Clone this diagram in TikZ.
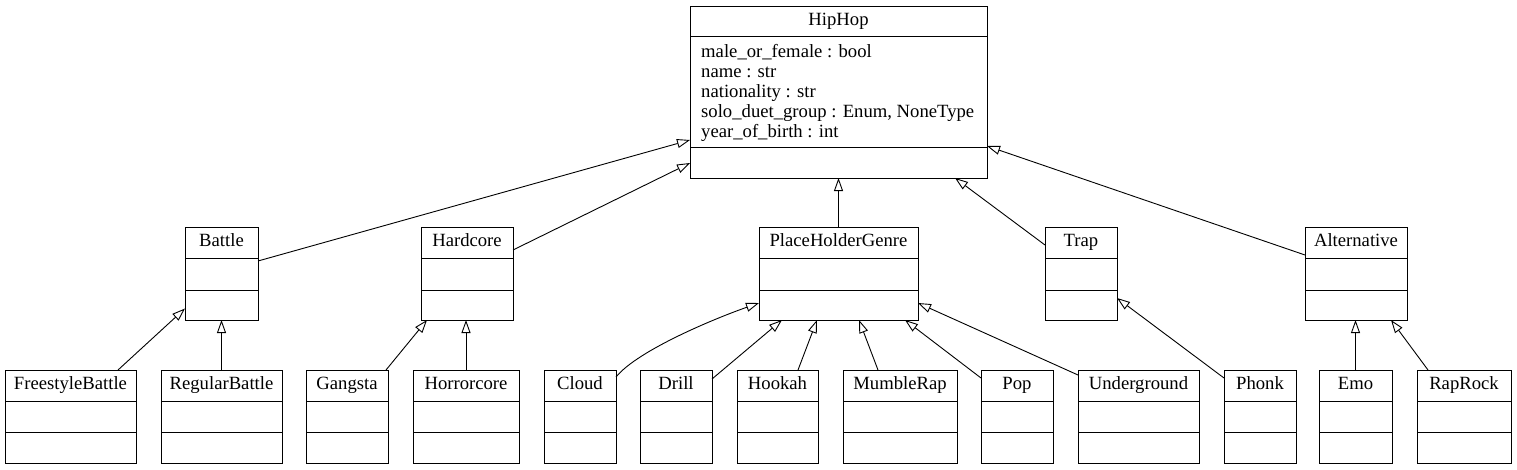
\documentclass[tikz,border=0pt]{standalone}
\usepackage{fontspec}
\setmainfont{Liberation Serif}
\usetikzlibrary{arrows.meta}
\newcommand\umlcls[8]{% name, x1, x2, top, bottom, div1, div2, title
  \pgfmathsetmacro\ucx{(#2+#3)/2}\pgfmathsetmacro\ucy{(#4+#5)/2}%
  \pgfmathsetmacro\ucw{#3-#2}\pgfmathsetmacro\uch{#5-#4}%
  \node[cls,minimum width=\ucw pt,minimum height=\uch pt] (#1) at (\ucx,\ucy) {};
  \draw[divline] (#2,#6) -- (#3,#6) (#2,#7) -- (#3,#7);
  \node[ttl] (#1-t) at (\ucx,#4+19.5) {#8};
}
\begin{document}
\begin{tikzpicture}[x=1pt,y=-1pt,
  cls/.style={draw,rectangle,line width=1pt,inner sep=0pt,outer sep=0pt},
  divline/.style={line width=1pt},
  ttl/.style={anchor=base,inner sep=0pt,font=\fontsize{18.67}{20}\selectfont},
  attr/.style={anchor=base west,inner sep=0pt,font=\fontsize{18.67}{20}\selectfont},
  inh/.style={draw,line width=0.9pt,-{Triangle[open,length=13pt,width=9pt,line width=0.9pt]}}]
\useasboundingbox (0,0) rectangle (1517,469);
% top class
\umlcls{HipHop}{690}{987}{6}{178}{36}{147}{HipHop}
\node[attr] (HipHop-a1) at (701,57) {male\_or\_female : bool};
\node[attr] (HipHop-a2) at (701,77) {name : str};
\node[attr] (HipHop-a3) at (701,97) {nationality : str};
\node[attr] (HipHop-a4) at (701,117) {solo\_duet\_group : Enum, NoneType};
\node[attr] (HipHop-a5) at (701,137) {year\_of\_birth : int};
% middle row
\umlcls{Battle}{185}{258}{227}{320}{258}{290}{Battle}
\umlcls{Hardcore}{421}{513}{227}{320}{258}{290}{Hardcore}
\umlcls{PHG}{759}{918}{227}{320}{258}{290}{PlaceHolderGenre}
\umlcls{Trap}{1045}{1117}{227}{320}{258}{290}{Trap}
\umlcls{Alternative}{1305}{1407}{227}{320}{258}{290}{Alternative}
% bottom row
\umlcls{FreestyleBattle}{5}{136}{370}{463}{401}{432}{FreestyleBattle}
\umlcls{RegularBattle}{161}{282}{370}{463}{401}{432}{RegularBattle}
\umlcls{Gangsta}{306}{388}{370}{463}{401}{432}{Gangsta}
\umlcls{Horrorcore}{413}{519}{370}{463}{401}{432}{Horrorcore}
\umlcls{Cloud}{544}{616}{370}{463}{401}{432}{Cloud}
\umlcls{Drill}{640}{712}{370}{463}{401}{432}{Drill}
\umlcls{Hookah}{737}{818}{370}{463}{401}{432}{Hookah}
\umlcls{MumbleRap}{843}{957}{370}{463}{401}{432}{MumbleRap}
\umlcls{Pop}{981}{1053}{370}{463}{401}{432}{Pop}
\umlcls{Underground}{1078}{1199}{370}{463}{401}{432}{Underground}
\umlcls{Phonk}{1224}{1296}{370}{463}{401}{432}{Phonk}
\umlcls{Emo}{1319}{1392}{370}{463}{401}{432}{Emo}
\umlcls{RapRock}{1417}{1511}{370}{463}{401}{432}{RapRock}
% inheritance connectors
\draw[inh] ([shift={(0,-12.5)}]Battle.east) -- ([shift={(0,48)}]HipHop.west);
\draw[inh] ([shift={(0,-23.5)}]Hardcore.east) -- ([shift={(0,71)}]HipHop.west);
\draw[inh] (PHG.north) -- (HipHop.south);
\draw[inh] ([shift={(0,-28.5)}]Trap.west) -- ([shift={(116.5,0)}]HipHop.south);
\draw[inh] ([shift={(0,-18.5)}]Alternative.west) -- ([shift={(0,54)}]HipHop.east);
\draw[inh] ([shift={(47.5,0)}]FreestyleBattle.north) -- ([shift={(0,35)}]Battle.west);
\draw[inh] (RegularBattle.north) -- (RegularBattle.north |- Battle.south);
\draw[inh] ([shift={(39,0)}]Gangsta.north) -- ([shift={(-40,0)}]Hardcore.south);
\draw[inh] (Horrorcore.north) -- (Horrorcore.north |- Hardcore.south);
\draw[inh] ([shift={(0,-39.5)}]Cloud.east) .. controls +(22,-27) and +(-43,15) .. ([shift={(0,29.5)}]PHG.west);
\draw[inh] ([shift={(0,-37.5)}]Drill.east) -- ([shift={(-56.5,0)}]PHG.south);
\draw[inh] ([shift={(20.5,0)}]Hookah.north) -- ([shift={(-21.5,0)}]PHG.south);
\draw[inh] ([shift={(-22,0)}]MumbleRap.north) -- ([shift={(20.5,0)}]PHG.south);
\draw[inh] ([shift={(0,-38.5)}]Pop.west) -- ([shift={(66.5,0)}]PHG.south);
\draw[inh] ([shift={(0,-41.5)}]Underground.west) -- ([shift={(0,29.5)}]PHG.east);
\draw[inh] ([shift={(0,-38.5)}]Phonk.west) -- ([shift={(0,24.5)}]Trap.east);
\draw[inh] (Emo.north) -- (Emo.north |- Alternative.south);
\draw[inh] ([shift={(-36,0)}]RapRock.north) -- ([shift={(35,0)}]Alternative.south);
\end{tikzpicture}
\end{document}
